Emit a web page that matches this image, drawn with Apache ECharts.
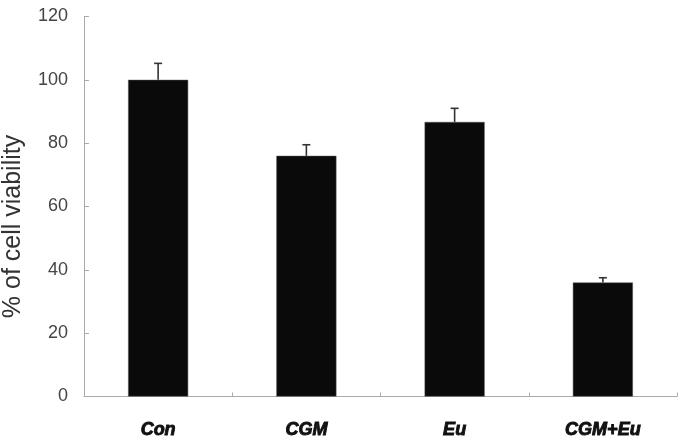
<!DOCTYPE html>
<html><head><meta charset="utf-8">
<script src="https://cdn.jsdelivr.net/npm/echarts@6/dist/echarts.min.js"></script>
<style>html,body{margin:0;padding:0;background:#fff}#c{width:682px;height:443px}</style>
</head><body><div id="c"></div>
<script>
var categories = ['Con', 'CGM', 'Eu', 'CGM+Eu'];
var viability = [100, 76, 86.7, 36];
var errors = [5.2, 3.5, 4.3, 1.5];
var yTicks = [0, 20, 40, 60, 80, 100, 120];

var chart = echarts.init(document.getElementById('c'));
chart.setOption({
  animation: false,
  grid: {left: 84, right: 5, top: 16.5, bottom: 46.5, containLabel: false, outerBoundsMode: 'none'},
  xAxis: {
    type: 'category', data: categories,
    axisLine: {lineStyle: {color: '#aaa', width: 1}},
    axisTick: {show: true, inside: true, length: 4, lineStyle: {color: '#aaa'}},
    axisLabel: {margin: 25, color: '#111', fontSize: 18, fontWeight: 'bold', fontStyle: 'italic',
      fontFamily: 'Liberation Sans, Arial', textBorderColor: '#111', textBorderWidth: 0.9}
  },
  yAxis: {
    type: 'value', min: yTicks[0], max: yTicks[yTicks.length - 1], interval: 20,
    name: '% of cell viability', nameLocation: 'middle', nameGap: 58, nameRotate: 90,
    nameTextStyle: {fontSize: 25, color: '#333', fontFamily: 'Liberation Sans, Arial', padding: [0, 40, 0, 0]},
    axisLine: {show: true, lineStyle: {color: '#aaa', width: 1}},
    axisTick: {show: true, inside: true, length: 5, lineStyle: {color: '#aaa'}},
    splitLine: {show: false},
    axisLabel: {margin: 16, color: '#444', fontSize: 18, fontFamily: 'Liberation Sans, Arial'}
  },
  series: [
    {
      type: 'bar', data: viability, barWidth: '40.5%',
      itemStyle: {color: '#0a0a0a', borderColor: '#555', borderWidth: 0.5}
    },
    {
      type: 'custom',
      data: viability.map(function (v, i) { return [i, v, v + errors[i]]; }),
      renderItem: function (params, api) {
        var lo = api.coord([api.value(0), api.value(1)]);
        var hi = api.coord([api.value(0), api.value(2)]);
        var hw = 4;
        var st = {stroke: '#333', lineWidth: 1.6};
        return {type: 'group', children: [
          {type: 'line', shape: {x1: lo[0], y1: lo[1], x2: hi[0], y2: hi[1]}, style: st},
          {type: 'line', shape: {x1: hi[0] - hw, y1: hi[1], x2: hi[0] + hw, y2: hi[1]}, style: st}
        ]};
      },
      z: 3
    }
  ]
});
</script></body></html>
